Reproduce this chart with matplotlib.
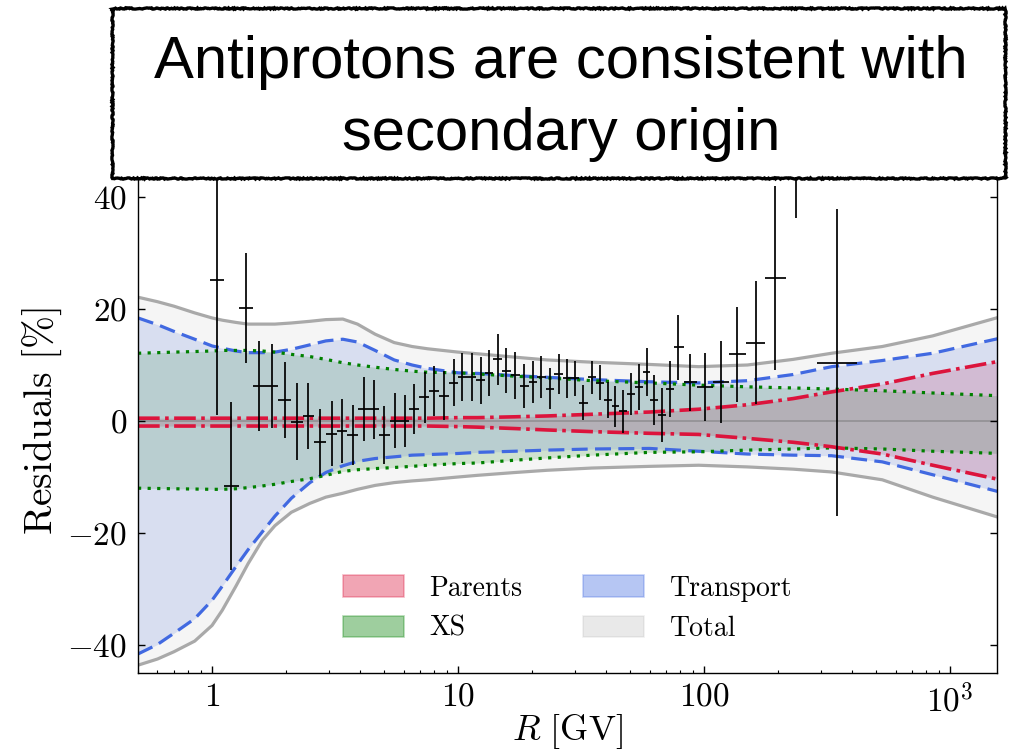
"""Antiproton residuals vs rigidity with uncertainty bands (Parents, XS, Transport, Total)."""

import matplotlib

matplotlib.use("Agg")
import matplotlib.pyplot as plt
import numpy as np
from matplotlib.colors import to_rgba
from matplotlib.patches import Patch, Rectangle

plt.rcParams["font.family"] = "serif"
plt.rcParams["font.serif"] = ["cmr10"]
plt.rcParams["mathtext.fontset"] = "cm"
plt.rcParams["axes.formatter.use_mathtext"] = True

# --- uncertainty bands (residuals in %) ---
R_band = [0.5, 0.6, 0.7, 0.85, 1.0, 1.1, 1.25, 1.4, 1.6, 1.8,
          2.1, 2.5, 2.9, 3.4, 3.9, 4.6, 5.5, 6.5, 7.5, 10,
          12, 17, 23, 35, 60, 95, 150, 230, 330, 530,
          850, 1600]
total_hi = [22.1, 21.3, 20.5, 19.3, 18.4, 18.0, 17.6, 17.3, 17.3, 17.3,
            17.5, 17.8, 18.1, 18.2, 17.3, 15.5, 14.0, 13.3, 12.9, 12.3,
            12.0, 11.4, 10.9, 10.5, 10.1, 9.7, 10.0, 11.0, 12.1, 13.3,
            15.2, 18.6]
total_lo = [-43.6, -42.5, -41.2, -39.3, -36.5, -33.8, -29.5, -25.5, -21.3, -18.7,
            -16.3, -14.7, -13.6, -12.9, -12.2, -11.5, -11.0, -10.7, -10.5, -10.0,
            -9.7, -9.2, -8.8, -8.4, -8.1, -7.9, -8.2, -8.6, -9.1, -10.5,
            -13.6, -17.3]
transport_hi = [18.4, 17.2, 16.0, 14.6, 13.4, 13.0, 12.5, 12.2, 12.2, 12.3,
                12.8, 13.6, 14.3, 14.6, 14.1, 12.6, 10.9, 10.0, 9.4, 8.6,
                8.5, 8.1, 7.8, 7.4, 7.0, 6.8, 7.2, 8.3, 9.7, 10.8,
                12.1, 14.8]
transport_lo = [-41.6, -39.9, -37.9, -35.3, -32.0, -29.5, -26.0, -23.0, -19.8, -17.0,
                -13.8, -11.0, -9.2, -8.0, -7.2, -6.7, -6.4, -6.1, -6.0, -5.8,
                -5.6, -5.4, -5.2, -5.0, -4.9, -5.4, -5.9, -6.1, -6.2, -7.3,
                -9.6, -12.7]
xs_hi = [12.1, 12.2, 12.3, 12.4, 12.5, 12.6, 12.6, 12.6, 12.5, 12.3,
         11.9, 11.5, 11.0, 10.4, 10.0, 9.6, 9.2, 8.9, 8.7, 8.6,
         8.4, 8.0, 7.7, 7.2, 6.8, 6.4, 6.1, 5.9, 5.7, 5.4,
         5.0, 4.5]
xs_lo = [-12.0, -12.05, -12.1, -12.15, -12.2, -12.2, -12.1, -11.9, -11.6, -11.3,
         -10.8, -10.3, -9.7, -9.0, -8.7, -8.5, -8.3, -8.1, -7.9, -7.6,
         -7.5, -7.0, -6.6, -6.1, -5.6, -5.5, -5.2, -5.0, -4.8, -5.0,
         -5.4, -5.8]
parents_hi = [0.5, 0.5, 0.5, 0.5, 0.5, 0.5, 0.5, 0.5, 0.5, 0.5,
              0.5, 0.5, 0.5, 0.5, 0.5, 0.5, 0.5, 0.5, 0.5, 0.6,
              0.6, 0.75, 0.9, 1.2, 1.6, 2.1, 2.9, 4.0, 5.2, 6.6,
              8.5, 10.7]
parents_lo = [-0.9, -0.9, -0.9, -0.9, -0.9, -0.9, -0.9, -0.9, -0.9, -0.9,
              -0.9, -0.9, -0.9, -0.9, -0.9, -0.9, -0.9, -0.9, -0.9, -1.0,
              -1.1, -1.35, -1.6, -1.9, -2.2, -2.4, -3.1, -3.8, -4.6, -5.9,
              -7.9, -10.5]

# --- data residuals ---
R_data = [1.045, 1.196, 1.374, 1.557, 1.756, 1.97, 2.21, 2.46, 2.74, 3.06,
          3.37, 3.74, 4.13, 4.54, 5.02, 5.52, 6.06, 6.6, 7.32, 7.98,
          8.76, 9.58, 10.4, 11.35, 12.35, 13.35, 14.5, 15.68, 17.1, 18.6,
          20.2, 21.8, 23.6, 25.6, 27.6, 29.8, 32.3, 34.9, 37.6, 40.6,
          43.6, 47.0, 50.5, 54.3, 58.5, 62.6, 67.4, 72.5, 78.6, 87.5,
          100.4, 116.9, 136.2, 162, 194, 237, 347]
resid = [25.1, -11.6, 20.2, 6.3, 6.25, 3.75, -0.1, 0.95, -3.8, -2.3,
         -1.8, -2.5, 2.1, 2.1, -2.5, 0.06, 0.0, 2.1, 4.2, 5.4,
         4.5, 6.85, 7.9, 7.9, 7.3, 8.5, 11.0, 9.0, 8.2, 6.25,
         7.0, 7.8, 5.8, 8.4, 7.6, 7.6, 3.3, 7.8, 6.85, 3.75,
         2.6, 1.7, 4.8, 6.1, 8.7, 3.75, 1.07, 5.8, 13.2, 6.9,
         6.1, 6.9, 11.9, 14.0, 25.5, 60.0, 10.4]
resid_err = [24.0, 15.0, 9.8, 8.0, 7.5, 6.7, 6.8, 5.9, 6.0, 5.8,
             5.7, 5.4, 5.7, 5.3, 5.1, 4.85, 4.7, 4.5, 4.5, 4.5,
             4.4, 4.2, 4.3, 4.3, 4.2, 4.1, 4.5, 4.0, 4.2, 3.9,
             3.8, 3.75, 3.7, 3.5, 3.45, 3.1, 3.2, 3.0, 3.1, 3.3,
             3.7, 3.8, 3.8, 4.1, 4.3, 4.4, 4.9, 5.0, 5.8, 5.1,
             6.1, 7.3, 8.5, 11.0, 16.4, 23.7, 27.4]

band_labels = ["Parents", "XS", "Transport", "Total"]
band_colors = ["crimson", "green", "royalblue", "gray"]

fig = plt.figure(figsize=(10.14, 7.54), dpi=100)
ax = fig.add_axes([0.1361, 0.1074, 0.8471, 0.6685])

# fills, in legend order; Total on top
ax.fill_between(R_band, parents_lo, parents_hi, color="crimson", alpha=0.19, lw=0, zorder=1)
ax.fill_between(R_band, xs_lo, xs_hi, color="green", alpha=0.16, lw=0, zorder=1.1)
ax.fill_between(R_band, transport_lo, transport_hi, color="royalblue", alpha=0.16, lw=0, zorder=1.2)
ax.fill_between(R_band, total_lo, total_hi, color="gray", alpha=0.08, lw=0, zorder=1.3)

ax.axhline(0, color="gray", lw=1.3, alpha=0.6, zorder=1.5)

for arr in (total_lo, total_hi):
    ax.plot(R_band, arr, color="darkgray", lw=2.3, zorder=2)
for arr in (transport_lo, transport_hi):
    ax.plot(R_band, arr, color="royalblue", lw=2.3, dashes=(5, 2.3), zorder=2.1)
for arr in (xs_lo, xs_hi):
    ax.plot(R_band, arr, color="green", lw=2.3, dashes=(1, 2.0), zorder=2.2)
for arr in (parents_lo, parents_hi):
    ax.plot(R_band, arr, color="crimson", lw=2.6, dashes=(6, 1.5, 1, 1.5), zorder=2.3)

# bin half-widths from neighbouring centres
logR = np.log10(R_data)
mid = 0.5 * (logR[1:] + logR[:-1])
edges = np.concatenate([[2 * logR[0] - mid[0]], mid, [2 * logR[-1] - mid[-1]]])
R_arr = np.array(R_data)
xerr = [R_arr - 10 ** edges[:-1], 10 ** edges[1:] - R_arr]
ax.errorbar(R_data, resid, yerr=resid_err, xerr=xerr, fmt="none",
            ecolor="black", elinewidth=1.25, capsize=0, zorder=3)

ax.set_xscale("log")
ax.set_xlim(0.5, 1550)
ax.set_ylim(-45, 45)
ax.set_xticks([1, 10, 100, 1000], ["$1$", "$10$", "$100$", "$10^3$"])
ax.set_yticks([-40, -20, 0, 20, 40], ["$-40$", "$-20$", "$0$", "$20$", "$40$"])
ax.tick_params(which="both", direction="in", top=True, right=True, labelsize=24)
ax.tick_params(axis="y", pad=8)
ax.tick_params(axis="x", pad=7)
ax.tick_params(which="major", length=5, width=1)
ax.tick_params(which="minor", length=2.5, width=0.8)
for sp in ax.spines.values():
    sp.set_linewidth(1.0)
ax.set_xlabel(r"$R\ [\mathrm{GV}]$", fontsize=26, labelpad=-4)
ax.set_ylabel(r"$\mathrm{Residuals\ [\%]}$", fontsize=28.5, labelpad=2)

handles = [Patch(facecolor=to_rgba(c, 0.38 if c != "gray" else 0.17),
                 edgecolor=to_rgba(c, 0.3 if c != "gray" else 0.12), lw=1.2)
           for c in band_colors]
ax.legend(handles, band_labels, ncol=2, loc="lower center", bbox_to_anchor=(0.5, 0.012),
          frameon=False, fontsize=20, handlelength=2.2, handleheight=0.8,
          handletextpad=0.9, columnspacing=2.2, labelspacing=0.5)

# title box over the top of the axes
box = Rectangle((0.1105, 0.7639), 0.8807, 0.2255, transform=fig.transFigure,
                facecolor="white", edgecolor="black", lw=2.4, zorder=10)
box.set_sketch_params(scale=0.6, length=2, randomness=30)
fig.add_artist(box)
fig.text(0.553, 0.917, "Antiprotons are consistent with", ha="center", va="center",
         fontsize=43, family="Liberation Sans", zorder=11)
fig.text(0.553, 0.822, "secondary origin", ha="center", va="center",
         fontsize=43, family="Liberation Sans", zorder=11)

fig.savefig("out.png", dpi=100)
